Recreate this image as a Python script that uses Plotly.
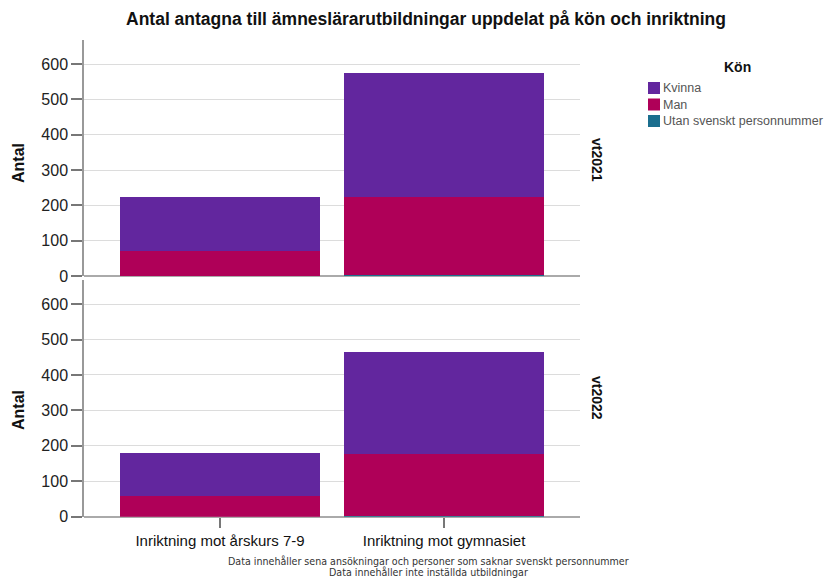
import plotly.graph_objects as go

# ---- data ----
categories = ["Inriktning mot årskurs 7-9", "Inriktning mot gymnasiet"]
terms = ["vt2021", "vt2022"]
series_names = ["Kvinna", "Man", "Utan svenskt personnummer"]
kvinna_vt2021 = [153, 351]
man_vt2021 = [72, 221]
utan_vt2021 = [0, 2]
kvinna_vt2022 = [121, 288]
man_vt2022 = [58, 175]
utan_vt2022 = [0, 2]
y_ticks = [0, 100, 200, 300, 400, 500, 600]
footnotes = ["Data innehåller sena ansökningar och personer som saknar svenskt personnummer",
             "Data innehåller inte inställda utbildningar"]
title_text = "Antal antagna till ämneslärarutbildningar uppdelat på kön och inriktning"

colors = {"Kvinna": "#62269E", "Man": "#AF0058", "Utan svenskt personnummer": "#1B6E8E"}

W, H = 826, 578          # reference pixel grid
FIG_H = 587              # css height (the photo is scaled to 578 px tall)
def px(x): return x / W
def py(y): return (H - y) / H

FONT = "Liberation Sans, Arial, sans-serif"
NARROW = "Liberation Sans Narrow, DejaVu Sans Condensed, Arial Narrow, sans-serif"

fig = go.Figure()
panel_data = {
    "vt2021": {"Kvinna": kvinna_vt2021, "Man": man_vt2021, "Utan svenskt personnummer": utan_vt2021},
    "vt2022": {"Kvinna": kvinna_vt2022, "Man": man_vt2022, "Utan svenskt personnummer": utan_vt2022},
}
stack_order = ["Utan svenskt personnummer", "Man", "Kvinna"]
for i, term in enumerate(terms):
    xa = "x" if i == 0 else "x2"
    ya = "y" if i == 0 else "y2"
    for name in stack_order:
        fig.add_trace(go.Bar(
            x=[0, 1], y=panel_data[term][name], name=name,
            marker=dict(color=colors[name], line=dict(width=0)),
            width=0.897, xaxis=xa, yaxis=ya, showlegend=False,
            hovertext=categories, hoverinfo="text+y+name",
        ))

xdom = [px(84), px(580)]
xrange = [-0.607, 1.607]
yrange = [0, 668]
common_y = dict(range=yrange, tickvals=y_ticks, ticks="outside", ticklen=11,
                tickcolor="#777", tickwidth=1.5, showline=True, linecolor="#999",
                linewidth=1.5, showgrid=True, gridcolor="#dcdcdc", gridwidth=1,
                zeroline=True, zerolinecolor="#aaa", zerolinewidth=1.5,
                tickfont=dict(family=FONT, size=16, color="#222"), fixedrange=True)

fig.update_layout(
    width=W, height=FIG_H, autosize=False,
    margin=dict(l=0, r=0, t=0, b=0),
    paper_bgcolor="white", plot_bgcolor="white",
    barmode="stack", bargap=0,
    xaxis=dict(domain=xdom, anchor="y", range=xrange, showticklabels=False,
               ticks="", showgrid=False, showline=False, zeroline=False),
    yaxis=dict(domain=[py(276), py(40)], anchor="x", **common_y),
    xaxis2=dict(domain=xdom, anchor="y2", range=xrange, tickvals=[0, 1],
                ticktext=categories, ticks="outside", ticklen=10, tickcolor="#777",
                tickwidth=1.5, showgrid=False, showline=False, zeroline=False,
                tickfont=dict(family=FONT, size=15, color="#111")),
    yaxis2=dict(domain=[py(516.7), py(280)], anchor="x2", **common_y),
)

ann = []
ann.append(dict(text="<b>" + title_text + "</b>", x=px(426), y=py(19), xref="paper", yref="paper",
                showarrow=False, font=dict(family=FONT, size=17.5, color="#111"),
                xanchor="center", yanchor="middle"))
for yc in [163, 410]:
    ann.append(dict(text="<b>Antal</b>", x=px(18), y=py(yc), xref="paper", yref="paper",
                    showarrow=False, textangle=-90, font=dict(family=FONT, size=16, color="#111"),
                    xanchor="center", yanchor="middle"))
for term, yc in zip(terms, [160, 398]):
    ann.append(dict(text="<b>" + term + "</b>", x=px(597), y=py(yc), xref="paper", yref="paper",
                    showarrow=False, textangle=90, font=dict(family=FONT, size=14, color="#111"),
                    xanchor="center", yanchor="middle"))
# legend
ann.append(dict(text="<b>Kön</b>", x=px(737), y=py(67), xref="paper", yref="paper",
                showarrow=False, font=dict(family=FONT, size=14, color="#111"),
                xanchor="center", yanchor="middle"))
shapes = []
for k, name in enumerate(series_names):
    yc = 88 + 16.5 * k
    shapes.append(dict(type="rect", xref="paper", yref="paper",
                       x0=px(648), x1=px(660), y0=py(yc + 6), y1=py(yc - 6),
                       fillcolor=colors[name], line=dict(width=0)))
    ann.append(dict(text=name, x=px(661), y=py(yc), xref="paper", yref="paper",
                    showarrow=False, font=dict(family=FONT, size=12.5, color="#555"),
                    xanchor="left", yanchor="middle"))
for k, line in enumerate(footnotes):
    ann.append(dict(text=line, x=px(428), y=py(561 + 10.5 * k), xref="paper", yref="paper",
                    showarrow=False, font=dict(family=NARROW, size=10.6, color="#333"),
                    xanchor="center", yanchor="middle"))

fig.update_layout(annotations=ann, shapes=shapes)
fig.write_html("out.html", config={"displayModeBar": False},
               post_script="document.body.style.margin='0';document.body.style.overflow='hidden';")
